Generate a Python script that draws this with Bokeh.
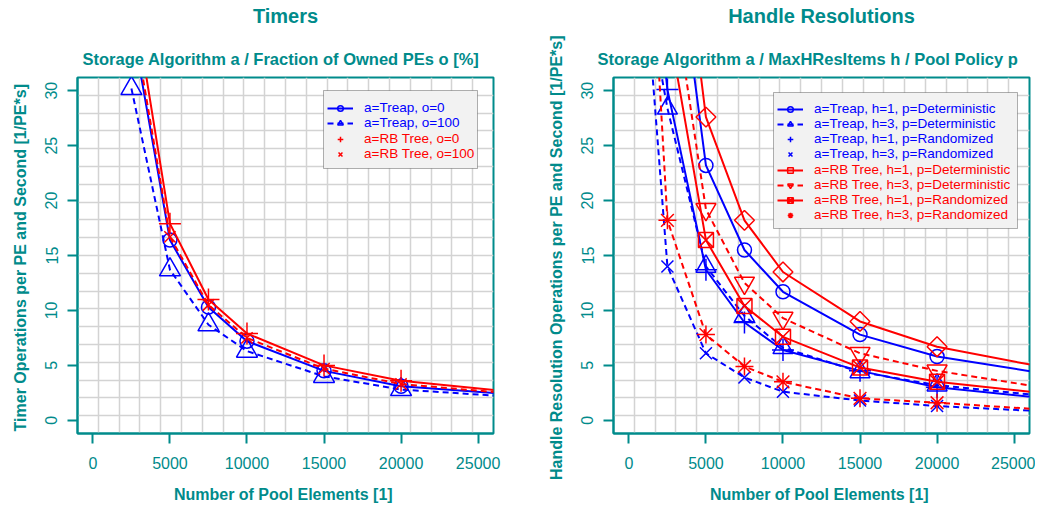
import math
from bokeh.plotting import figure
from bokeh.models import (Range1d, FixedTicker, Title, Legend, LegendItem, BoxAnnotation,
                          LinearAxis)
from bokeh.layouts import row
from bokeh.embed import file_html
from bokeh.resources import INLINE

# ---------------- data: left chart (Timers) ----------------
pool_elements_left = [2500, 5000, 7500, 10000, 15000, 20000, 30000]
timers_treap_o0 = [36.3, 16.4, 10.3, 7.2, 4.5, 3.1, 2.1]
timers_treap_o100 = [30.2, 13.7, 8.7, 6.3, 4.0, 2.8, 1.9]
timers_rb_o0 = [39.7, 17.9, 11.0, 7.9, 5.0, 3.6, 2.2]
timers_rb_o100 = [37.3, 16.7, 10.5, 7.5, 4.7, 3.3, 2.1]

# ---------------- data: right chart (Handle Resolutions) ----------------
pool_elements_right = [1000, 2500, 5000, 7500, 10000, 15000, 20000, 30000]
hres_treap_h1_det = [95.0, 49.9, 23.2, 15.5, 11.7, 7.8, 5.8, 3.6]
hres_treap_h3_det = [40.0, 28.4, 14.0, 9.5, 6.6, 4.4, 3.2, 1.8]
hres_treap_h1_rnd = [50.0, 30.1, 13.7, 8.9, 6.4, 4.5, 3.0, 1.6]
hres_treap_h3_rnd = [41.0, 14.0, 6.1, 3.9, 2.6, 1.8, 1.3, 0.6]
hres_rb_h1_det = [110.0, 56.0, 27.6, 18.2, 13.5, 9.0, 6.7, 4.0]
hres_rb_h3_det = [85.0, 42.4, 19.2, 12.5, 9.3, 6.1, 4.5, 2.3]
hres_rb_h1_rnd = [75.0, 36.5, 16.4, 10.4, 7.6, 4.8, 3.5, 2.0]
hres_rb_h3_rnd = [55.0, 18.2, 7.8, 4.9, 3.5, 2.0, 1.6, 0.7]

x_ticks = [0, 5000, 10000, 15000, 20000, 25000]
x_tick_labels = ["0", "5000", "10000", "15000", "20000", "25000"]
y_ticks = [0, 5, 10, 15, 20, 25, 30]
y_tick_labels = ["0", "5", "10", "15", "20", "25", "30"]

# ---------------- style ----------------
TEAL = "#008B8B"
BLUE = "#0000FF"
RED = "#FF0000"
FONT = "Liberation Sans"
DASH = "6 4"
X0, X1 = -1000, 26000
Y0, Y1 = -1.2, 31.2
FW, FH = 416, 356


def px_x(off):
    return X0 + off * (X1 - X0) / FW


def px_y(off_from_top):
    return Y1 - off_from_top * (Y1 - Y0) / FH


def make_figure(title, subtitle, ylabel, bl, br, sub_offset):
    p = figure(frame_width=FW, frame_height=FH, min_border_left=bl, min_border_right=br,
               min_border_top=77, min_border_bottom=64,
               x_range=Range1d(X0, X1), y_range=Range1d(Y0, Y1),
               output_backend="svg", toolbar_location=None, title=None,
               background_fill_color="white", border_fill_color="white")
    p.outline_line_color = TEAL
    p.outline_line_width = 2

    for ax in (p.xaxis[0], p.yaxis[0]):
        ax.axis_line_color = TEAL
        ax.axis_line_width = 2
        ax.major_tick_line_color = TEAL
        ax.major_tick_line_width = 2
        ax.major_tick_in = 0
        ax.major_tick_out = 10
        ax.minor_tick_line_color = None
        ax.major_label_text_color = TEAL
        ax.major_label_text_font = FONT
        ax.major_label_text_font_size = "16px"
        ax.axis_label_text_color = TEAL
        ax.axis_label_text_font = FONT
        ax.axis_label_text_font_size = "16px"
        ax.axis_label_text_font_style = "bold"

    xa = p.xaxis[0]
    xa.ticker = FixedTicker(ticks=x_ticks)
    xa.major_label_overrides = dict(zip(x_ticks, x_tick_labels))
    xa.axis_label = "Number of Pool Elements  [1]"
    xa.major_label_standoff = 13
    xa.axis_label_standoff = 14

    ya = p.yaxis[0]
    ya.ticker = FixedTicker(ticks=y_ticks)
    ya.major_label_overrides = dict(zip(y_ticks, y_tick_labels))
    ya.major_label_orientation = "vertical"
    ya.axis_label = ylabel
    ya.major_label_standoff = 10
    ya.axis_label_standoff = 14

    gx = [X0 + k * (X1 - X0) / 20 for k in range(1, 20)]
    gy = [Y0 + k * (Y1 - Y0) / 20 for k in range(1, 20)]
    p.xgrid.ticker = FixedTicker(ticks=gx)
    p.ygrid.ticker = FixedTicker(ticks=gy)
    for g in (p.xgrid[0], p.ygrid[0]):
        g.grid_line_color = "#d3d3d3"
        g.grid_line_width = 1.5

    # subtitle right above the frame
    p.add_layout(Title(text=subtitle, align="left", offset=sub_offset, text_font=FONT,
                       text_font_size="16.5px", text_font_style="bold", text_color=TEAL,
                       standoff=19), "above")
    # main title: label of a bare axis stacked above the subtitle
    top_axis = LinearAxis(axis_label=title, ticker=FixedTicker(ticks=[]),
                          axis_line_color=None, major_tick_out=0, major_tick_in=0,
                          minor_tick_out=0, minor_tick_in=0, major_label_standoff=0,
                          axis_label_standoff=12, axis_label_text_font=FONT,
                          axis_label_text_font_size="20px", axis_label_text_font_style="bold",
                          axis_label_text_color=TEAL)
    p.add_layout(top_axis, "above")
    return p


def draw_series(p, xs, ys, color, dash, marker, size, angle=0.0):
    lr = p.line(xs, ys, line_color=color, line_width=2, line_dash=dash)
    sr = p.scatter(xs, ys, marker=marker, size=size, angle=angle, line_color=color,
                   fill_color=None, line_width=1.5)
    return lr, sr


def add_legend(p, items, color, loc):
    leg = Legend(items=items, location=loc, padding=0, margin=0, spacing=0,
                 border_line_color=None, background_fill_alpha=0,
                 glyph_width=26, glyph_height=14, label_height=14, label_standoff=11,
                 label_text_font=FONT, label_text_font_size="13.5px", label_text_color=color)
    p.add_layout(leg)


# ---------------- left chart ----------------
p1 = make_figure("Timers", "Storage Algorithm a / Fraction of Owned PEs o [%]",
                 "Timer Operations per PE and Second  [1/PE*s]", 77, 37, 5)
l_t0 = draw_series(p1, pool_elements_left, timers_treap_o0, BLUE, "solid", "circle", 14)
l_t100 = draw_series(p1, pool_elements_left, timers_treap_o100, BLUE, DASH, "triangle", 21)
l_r0 = draw_series(p1, pool_elements_left, timers_rb_o0, RED, "solid", "cross", 22)
l_r100 = draw_series(p1, pool_elements_left, timers_rb_o100, RED, DASH, "x", 16)

p1.add_layout(BoxAnnotation(left=px_x(246), right=px_x(400), top=px_y(13), bottom=px_y(91),
                            fill_color="#f2f2f2", fill_alpha=1, line_color="black", line_width=1))
add_legend(p1, [
    LegendItem(label="a=Treap, o=0", renderers=[l_t0[0], l_t0[1]]),
    LegendItem(label="a=Treap, o=100", renderers=[l_t100[0], l_t100[1]]),
], BLUE, (250, 303))
add_legend(p1, [
    LegendItem(label="a=RB Tree, o=0", renderers=[l_r0[1]]),
    LegendItem(label="a=RB Tree, o=100", renderers=[l_r100[1]]),
], RED, (250, 272))

# ---------------- right chart ----------------
p2 = make_figure("Handle Resolutions", "Storage Algorithm a / MaxHResItems h / Pool Policy p",
                 "Handle Resolution Operations per PE and Second  [1/PE*s]", 83, 6, -16)
xr = pool_elements_right
r1 = draw_series(p2, xr, hres_treap_h1_det, BLUE, "solid", "circle", 14)
r2 = draw_series(p2, xr, hres_treap_h3_det, BLUE, DASH, "triangle", 20)
r3 = draw_series(p2, xr, hres_treap_h1_rnd, BLUE, "solid", "cross", 22)
r4 = draw_series(p2, xr, hres_treap_h3_rnd, BLUE, DASH, "x", 17)
r5 = draw_series(p2, xr, hres_rb_h1_det, RED, "solid", "square", 14, math.pi / 4)
r6 = draw_series(p2, xr, hres_rb_h3_det, RED, DASH, "inverted_triangle", 20)
r7 = draw_series(p2, xr, hres_rb_h1_rnd, RED, "solid", "square_x", 15)
r8 = draw_series(p2, xr, hres_rb_h3_rnd, RED, DASH, "asterisk", 18)

p2.add_layout(BoxAnnotation(left=px_x(160), right=px_x(404), top=px_y(15), bottom=px_y(151),
                            fill_color="#f2f2f2", fill_alpha=1, line_color="black", line_width=1))
add_legend(p2, [
    LegendItem(label="a=Treap, h=1, p=Deterministic", renderers=[r1[0], r1[1]]),
    LegendItem(label="a=Treap, h=3, p=Deterministic", renderers=[r2[0], r2[1]]),
    LegendItem(label="a=Treap, h=1, p=Randomized", renderers=[r3[1]]),
    LegendItem(label="a=Treap, h=3, p=Randomized", renderers=[r4[1]]),
], BLUE, (164, 272))
add_legend(p2, [
    LegendItem(label="a=RB Tree, h=1, p=Deterministic", renderers=[r5[0], r5[1]]),
    LegendItem(label="a=RB Tree, h=3, p=Deterministic", renderers=[r6[0], r6[1]]),
    LegendItem(label="a=RB Tree, h=1, p=Randomized", renderers=[r7[0], r7[1]]),
    LegendItem(label="a=RB Tree, h=3, p=Randomized", renderers=[r8[1]]),
], RED, (164, 211))

layout = row(p1, p2)
open("out.html", "w").write(file_html(layout, INLINE))
